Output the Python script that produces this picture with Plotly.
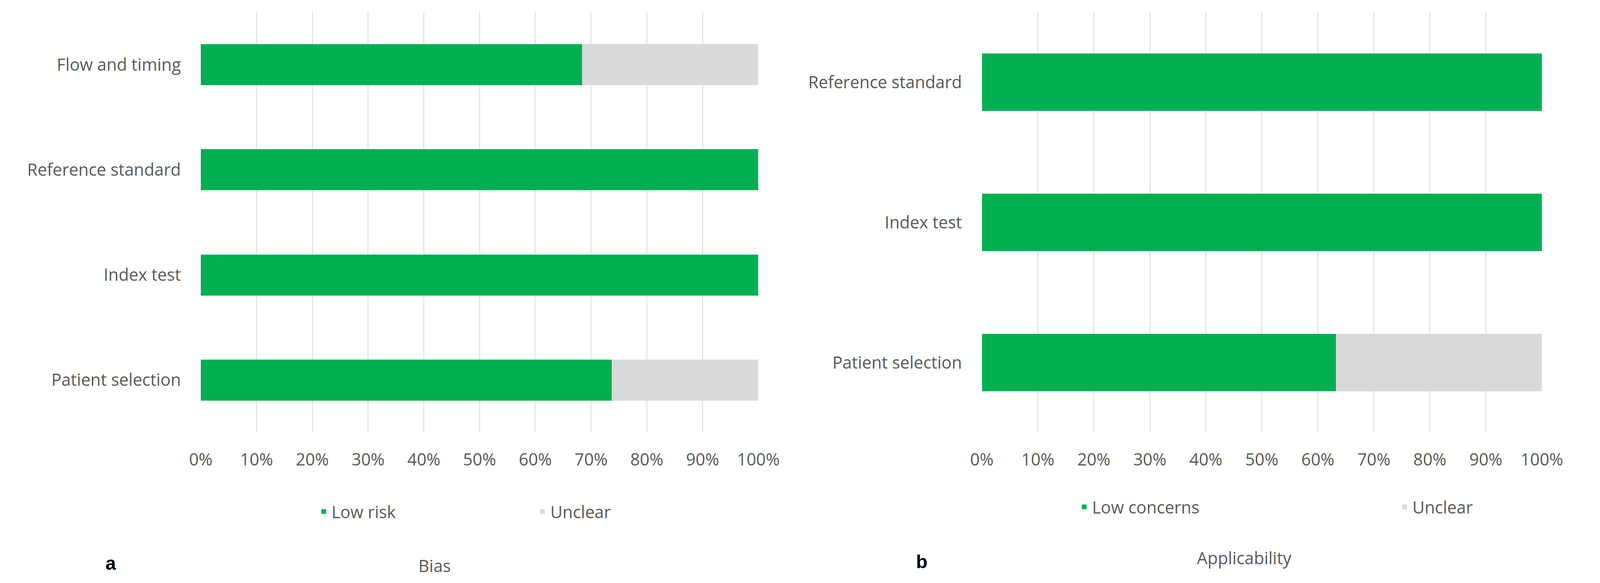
import plotly.graph_objects as go

# ---- data ----
bias_categories = ["Patient selection", "Index test", "Reference standard", "Flow and timing"]
bias_low_risk = [73.7, 100, 100, 68.4]
bias_unclear = [26.3, 0, 0, 31.6]

app_categories = ["Patient selection", "Index test", "Reference standard"]
app_low_concerns = [63.2, 100, 100]
app_unclear = [36.8, 0, 0]

x_ticks = list(range(0, 101, 10))
x_tick_labels = [f"{v}%" for v in x_ticks]

GREEN = "#00B050"
GREY = "#D9D9D9"
TEXT = "#595959"
FONT = "Open Sans"
FS = 43

W, H = 4388, 1493

fig = go.Figure()
fig.add_trace(go.Bar(y=bias_categories, x=bias_low_risk, orientation="h", name="Low risk",
                     marker=dict(color=GREEN, line=dict(width=0)), width=0.39,
                     xaxis="x", yaxis="y", legend="legend"))
fig.add_trace(go.Bar(y=bias_categories, x=bias_unclear, orientation="h", name="Unclear",
                     marker=dict(color=GREY, line=dict(width=0)), width=0.39,
                     xaxis="x", yaxis="y", legend="legend"))
fig.add_trace(go.Bar(y=app_categories, x=app_low_concerns, orientation="h", name="Low concerns",
                     marker=dict(color=GREEN, line=dict(width=0)), width=0.41,
                     xaxis="x2", yaxis="y2", legend="legend2"))
fig.add_trace(go.Bar(y=app_categories, x=app_unclear, orientation="h", name="Unclear",
                     marker=dict(color=GREY, line=dict(width=0)), width=0.41,
                     xaxis="x2", yaxis="y2", legend="legend2"))

ydom = [1 - 1100 / H, 1 - 23 / H]
xaxis_common = dict(range=[0, 100], tickvals=x_ticks, ticktext=x_tick_labels,
                    showgrid=True, gridcolor=GREY, gridwidth=2, zeroline=False,
                    showline=False, ticks="", ticklabelstandoff=40,
                    tickfont=dict(family=FONT, size=FS, color=TEXT), fixedrange=True)
yaxis_common = dict(showgrid=False, zeroline=False, showline=False, ticks="",
                    ticklabelstandoff=50, tickfont=dict(family=FONT, size=FS, color=TEXT),
                    domain=ydom, fixedrange=True)

fig.update_layout(
    width=W, height=H,
    margin=dict(l=0, r=0, t=0, b=0),
    paper_bgcolor="white", plot_bgcolor="white",
    barmode="stack", bargap=0,
    xaxis=dict(domain=[525 / W, 2099 / W], anchor="y", **xaxis_common),
    yaxis=dict(anchor="x", categoryorder="array", categoryarray=bias_categories,
               range=[-0.5, 3.5], **yaxis_common),
    xaxis2=dict(domain=[2730 / W, 4311 / W], anchor="y2", **xaxis_common),
    yaxis2=dict(anchor="x2", categoryorder="array", categoryarray=app_categories,
                range=[-0.5, 2.5], **yaxis_common),
    legend=dict(orientation="h", x=850 / W, y=1 - 1302 / H, xanchor="left", yanchor="middle",
                entrywidth=515, entrywidthmode="pixels", traceorder="normal",
                font=dict(family=FONT, size=FS, color=TEXT), bgcolor="rgba(0,0,0,0)"),
    legend2=dict(orientation="h", x=2997 / W, y=1 - 1290 / H, xanchor="left", yanchor="middle",
                 entrywidth=775, entrywidthmode="pixels", traceorder="normal",
                 font=dict(family=FONT, size=FS, color=TEXT), bgcolor="rgba(0,0,0,0)"),
    showlegend=True,
)

annotations = [
    dict(text="Bias", x=1185 / W, y=1 - 1440 / H, font=dict(family=FONT, size=FS, color=TEXT)),
    dict(text="Applicability", x=3470 / W, y=1 - 1420 / H, font=dict(family=FONT, size=FS, color=TEXT)),
    dict(text="<b>a</b>", x=271 / W, y=1 - 1434 / H, font=dict(family="Liberation Sans", size=48, color="black")),
    dict(text="<b>b</b>", x=2560 / W, y=1 - 1430 / H, font=dict(family="Liberation Sans", size=48, color="black")),
]
for a in annotations:
    a.update(xref="paper", yref="paper", showarrow=False, xanchor="center", yanchor="middle")
fig.update_layout(annotations=annotations)

fig.write_html("out.html")
